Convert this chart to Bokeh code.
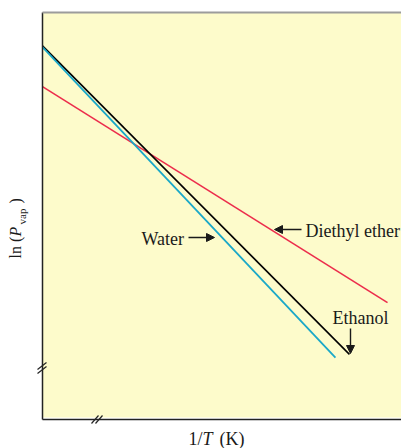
import math
from bokeh.plotting import figure
from bokeh.models import Range1d, Label, Arrow, NormalHead
from bokeh.embed import file_html
from bokeh.resources import INLINE

# ---- data (arbitrary units: x = 1/T, y = ln P_vap) ----
water_x = [0.0, 81.6]
water_y = [91.5, 15.2]
ethanol_x = [0.0, 85.5]
ethanol_y = [91.8, 16.0]
ether_x = [0.0, 96.1]
ether_y = [81.8, 28.7]

series_names = ["Water", "Ethanol", "Diethyl ether"]
x_label_parts = ["1/", "T", "(K)"]
y_label_parts = ["ln (", "P", "vap", ")"]

W, H = 401, 448
# pixel box of the plotting area inside the canvas
PL, PR, PT, PB = 42, 401, 12, 419


def dx(px):
    return (px - PL) / (PR - PL) * 100.0


def dy(py):
    return (PB - py) / (PB - PT) * 100.0


BG = "#fdfbcb"
RED = "#ec2d4c"
CYAN = "#1aa8c8"
INK = "#1a1a1a"
AXIS = "#222222"
FONT = "Liberation Serif"

p = figure(width=W, height=H, output_backend="svg", toolbar_location=None,
           x_range=Range1d(dx(0), dx(W)), y_range=Range1d(dy(H), dy(0)),
           min_border=0)
p.axis.visible = False
p.grid.visible = False
p.outline_line_color = None
p.background_fill_color = "white"
p.border_fill_color = "white"

# plot area background
p.quad(left=[0.0], right=[dx(W)], bottom=[dy(417)], top=[100.0],
       fill_color=BG, line_color=None)

p.line(ether_x, ether_y, line_color=RED, line_width=1.6)
p.line(ethanol_x, ethanol_y, line_color="black", line_width=1.6)
p.line(water_x, water_y, line_color=CYAN, line_width=1.8)

# axis frame lines
p.segment(x0=[0.0, 0.0], y0=[0.0, 0.0], x1=[0.0, dx(W)], y1=[100.0, 0.0],
          line_color=AXIS, line_width=1.5)
p.segment(x0=[0.0], y0=[100.0], x1=[dx(W)], y1=[100.0],
          line_color="#9c9c9c", line_width=2)


def lab(x, y, text, align="left", size="18px", style="normal", angle=0.0, baseline="middle"):
    p.add_layout(Label(x=x, y=y, text=text, text_align=align, text_baseline=baseline,
                       text_font=FONT, text_font_size=size, text_color=INK,
                       text_font_style=style, angle=angle))


# series labels
lab(dx(141), dy(238), series_names[0])
lab(dx(332), dy(317), series_names[1])
lab(dx(305), dy(230), series_names[2])


def arrow(x0, y0, x1, y1):
    p.add_layout(Arrow(x_start=x0, y_start=y0, x_end=x1, y_end=y1,
                       line_color=INK, line_width=1.4,
                       end=NormalHead(size=8, fill_color=INK, line_color=INK)))


arrow(dx(188), dy(237), dx(214), dy(237))
arrow(dx(301), dy(229), dx(274), dy(229))
arrow(dx(350), dy(328), dx(350), dy(353))


# axis break marks
def seg(x0, y0, x1, y1, color=AXIS, w=1.2):
    p.add_layout(Arrow(x_start=x0, y_start=y0, x_end=x1, y_end=y1, end=None,
                       line_color=color, line_width=w))


seg(dx(37), dy(369), dx(46), dy(362))
seg(dx(37), dy(373), dx(46), dy(366))
seg(dx(91), dy(423), dx(98), dy(415))
seg(dx(95), dy(423), dx(102), dy(415))

# axis titles
lab(dx(188), dy(438), x_label_parts[0])
lab(dx(202), dy(438), x_label_parts[1], style="italic")
lab(dx(219), dy(438), x_label_parts[2])

A = math.pi / 2
lab(dx(15), dy(258), y_label_parts[0], angle=A, size="16px")
lab(dx(15), dy(236), y_label_parts[1], angle=A, style="italic", size="16px")
lab(dx(21), dy(224), y_label_parts[2], angle=A, size="11px")
lab(dx(15), dy(203), y_label_parts[3], angle=A, size="16px")

open("out.html", "w").write(file_html(p, INLINE))
